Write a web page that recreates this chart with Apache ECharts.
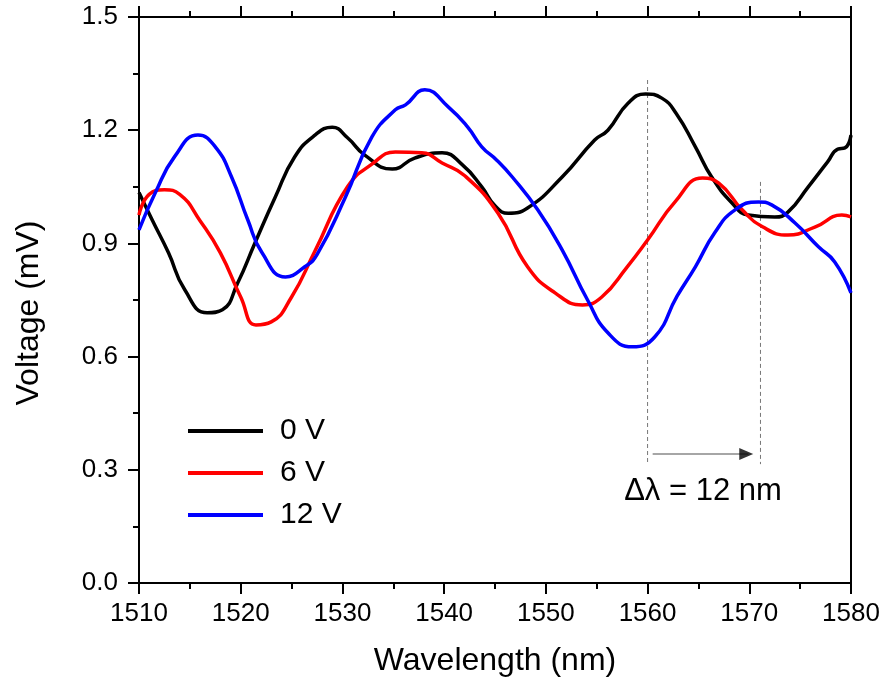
<!DOCTYPE html>
<html>
<head>
<meta charset="utf-8">
<script src="https://cdn.jsdelivr.net/npm/echarts@6/dist/echarts.min.js"></script>
<style>
  html, body { margin: 0; padding: 0; background: #fff; }
  #chart { width: 883px; height: 683px; }
</style>
</head>
<body>
<div id="chart"></div>
<script>
const FONT = 'Liberation Sans, Arial, sans-serif';

// 0 V
const wl0 = [1510, 1511.3, 1512.9, 1514.5, 1516.7, 1518.2, 1519.7, 1521.4, 1523.4, 1525.3, 1527.3, 1529, 1530.5, 1532.2, 1534.9, 1537.1, 1539.8, 1541.8, 1543.7, 1545, 1546.3, 1548.2, 1551.6, 1554.8, 1556.1, 1558.1, 1559.8, 1561.4, 1562.8, 1564.7, 1566.3, 1568.3, 1569.9, 1572.5, 1573.8, 1575.8, 1577.7, 1578.7, 1579.4, 1580];
const v0 = [1.035, 0.962, 0.875, 0.777, 0.716, 0.724, 0.795, 0.901, 1.023, 1.129, 1.187, 1.208, 1.18, 1.134, 1.097, 1.126, 1.14, 1.108, 1.05, 1.0, 0.98, 0.994, 1.076, 1.174, 1.2, 1.272, 1.296, 1.285, 1.245, 1.156, 1.076, 1.007, 0.975, 0.97, 0.983, 1.05, 1.116, 1.15, 1.153, 1.187];

// 6 V
const wl6 = [1510, 1511, 1512.5, 1514, 1516, 1518, 1520, 1521.5, 1523, 1525, 1527.3, 1530.5, 1532.9, 1535.2, 1537.8, 1539.8, 1542, 1545.3, 1548.2, 1550.9, 1553.6, 1555.5, 1558, 1560, 1562.7, 1565.4, 1567, 1569.3, 1571.3, 1573.8, 1576.5, 1579.1, 1580];
const v6 = [0.975, 1.03, 1.042, 1.03, 0.96, 0.875, 0.758, 0.684, 0.692, 0.758, 0.88, 1.05, 1.11, 1.142, 1.14, 1.113, 1.08, 0.98, 0.838, 0.769, 0.737, 0.758, 0.838, 0.909, 1.01, 1.073, 1.06, 0.989, 0.944, 0.922, 0.944, 0.975, 0.97];

// 12 V
const wl12 = [1510, 1511.6, 1513.5, 1515.8, 1517.5, 1519.1, 1520.7, 1522.1, 1524.4, 1526.3, 1527.5, 1530.3, 1532.9, 1535.2, 1536.2, 1538.1, 1540.4, 1542.3, 1543.7, 1545.2, 1546.7, 1549.2, 1551.6, 1554.1, 1556.1, 1558.5, 1560.7, 1562.9, 1564.7, 1566.6, 1568.6, 1570.9, 1572.2, 1574.5, 1576.8, 1578.4, 1580];
const v12 = [0.936, 1.034, 1.13, 1.187, 1.156, 1.076, 0.962, 0.875, 0.811, 0.838, 0.87, 1.023, 1.182, 1.254, 1.267, 1.307, 1.262, 1.209, 1.156, 1.12, 1.076, 0.989, 0.883, 0.75, 0.663, 0.626, 0.652, 0.76, 0.838, 0.928, 0.989, 1.01, 1.002, 0.954, 0.891, 0.851, 0.769];

const seriesNames = ['0 V', '6 V', '12 V'];

// peak shift markers
const shiftFrom = 1560;
const shiftTo = 1571.1;
const arrowY = 0.342;

const pairs = (xs, ys) => xs.map((x, i) => [x, ys[i]]);

const chart = echarts.init(document.getElementById('chart'));

const tickCommon = {
  min: 1510,
  max: 1580,
  interval: 10,
  axisLine: { show: true, onZero: false, lineStyle: { color: '#000', width: 2 } },
  axisTick: { show: true, inside: false, length: 11, lineStyle: { color: '#000', width: 2 } },
  minorTick: { show: true, splitNumber: 2, length: 6, lineStyle: { color: '#000', width: 2 } },
  splitLine: { show: false }
};

const line = (name, data, color) => ({
  name,
  type: 'line',
  data,
  smooth: 0.5,
  showSymbol: false,
  symbol: 'none',
  lineStyle: { color, width: 3.5 },
  itemStyle: { color },
  z: 3
});

const dashed = (x, top) => ({
  type: 'line',
  data: [[x, top], [x, 0.315]],
  showSymbol: false,
  symbol: 'none',
  silent: true,
  lineStyle: { color: '#777', width: 1, type: [4, 3] },
  z: 2
});

chart.setOption({
  animation: false,
  grid: { left: 139, right: 32, top: 17, bottom: 100 },
  legend: {
    data: seriesNames.map((n) => ({ name: n, icon: 'rect' })),
    orient: 'vertical',
    left: 188,
    top: 416,
    padding: 0,
    itemWidth: 75,
    itemHeight: 4,
    itemGap: 12,
    textStyle: { fontFamily: FONT, fontSize: 30, color: '#000', lineHeight: 28, padding: [0, 0, 0, 12] }
  },
  xAxis: [
    {
      ...tickCommon,
      type: 'value',
      position: 'bottom',
      name: 'Wavelength (nm)',
      nameLocation: 'middle',
      nameGap: 62,
      nameTextStyle: { fontFamily: FONT, fontSize: 32, color: '#000' },
      axisLabel: { fontFamily: FONT, fontSize: 26, color: '#000', margin: 18, formatter: (v) => String(v) }
    },
    {
      ...tickCommon,
      type: 'value',
      position: 'top',
      axisLabel: { show: false }
    }
  ],
  yAxis: [
    {
      type: 'value',
      min: 0,
      max: 1.5,
      interval: 0.3,
      name: 'Voltage (mV)',
      nameLocation: 'middle',
      nameGap: 94,
      nameTextStyle: { fontFamily: FONT, fontSize: 32, color: '#000', padding: [0, 26, 0, 0] },
      axisLine: { show: true, lineStyle: { color: '#000', width: 2 } },
      axisTick: { show: true, inside: false, length: 11, lineStyle: { color: '#000', width: 2 } },
      minorTick: { show: true, splitNumber: 2, length: 6, lineStyle: { color: '#000', width: 2 } },
      splitLine: { show: false },
      axisLabel: {
        fontFamily: FONT,
        fontSize: 26,
        color: '#000',
        margin: 21,
        formatter: (v) => v.toFixed(1)
      }
    },
    {
      type: 'value',
      min: 0,
      max: 1.5,
      position: 'right',
      axisLine: { show: true, lineStyle: { color: '#000', width: 2 } },
      axisTick: { show: false },
      axisLabel: { show: false },
      splitLine: { show: false }
    }
  ],
  series: [
    line(seriesNames[0], pairs(wl0, v0), '#000000'),
    line(seriesNames[1], pairs(wl6, v6), '#ff0000'),
    line(seriesNames[2], pairs(wl12, v12), '#0000ff'),
    dashed(shiftFrom, 1.333),
    dashed(shiftTo, 1.063),
    {
      type: 'line',
      data: [[shiftFrom + 0.5, arrowY], [shiftTo - 1.2, arrowY]],
      showSymbol: false,
      symbol: 'none',
      silent: true,
      lineStyle: { color: '#888', width: 1.5 },
      z: 2
    },
    {
      type: 'scatter',
      data: [[shiftTo - 1.4, arrowY]],
      symbol: 'triangle',
      symbolSize: [12, 14],
      symbolRotate: -90,
      silent: true,
      itemStyle: { color: '#000' },
      z: 4
    }
  ],
  graphic: [
    {
      type: 'text',
      x: 703,
      y: 491,
      style: {
        text: 'Δλ = 12 nm',
        fontFamily: FONT,
        fontSize: 31,
        fill: '#000',
        textAlign: 'center',
        textVerticalAlign: 'middle'
      }
    }
  ]
});
</script>
</body>
</html>
